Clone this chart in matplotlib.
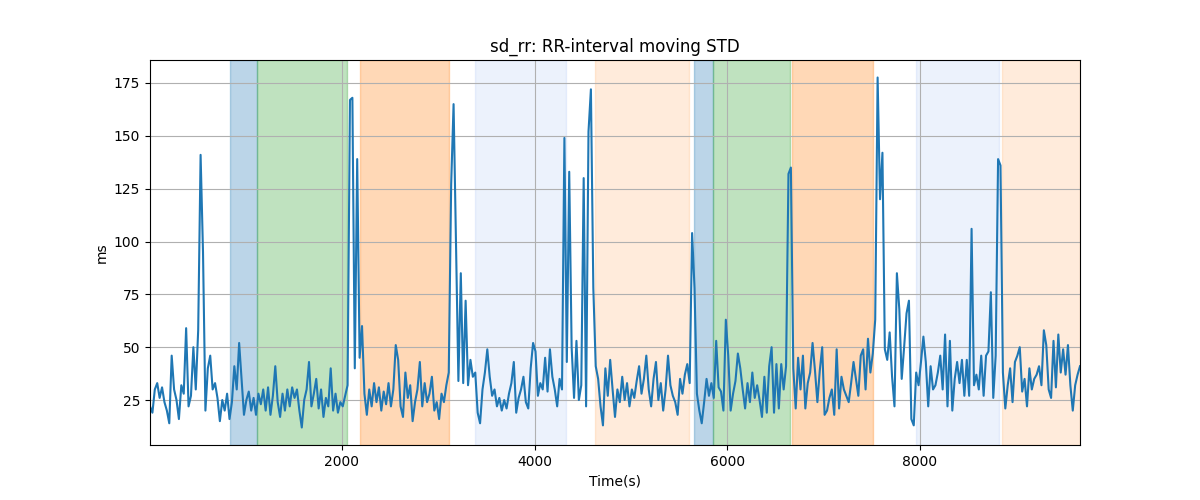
import numpy as np
import matplotlib
matplotlib.use("Agg")
import matplotlib.pyplot as plt

# moving STD of RR interval, one value every 25 s starting at t=10 s
step = 25
t0 = 10
sd_0 = [22, 19, 30, 33, 26, 31, 24, 20, 14, 46, 30, 25, 16, 32, 28, 59, 22, 27, 50, 30,
        58, 141, 95, 20, 40, 46, 30, 33, 26, 15, 25, 20, 28, 16, 24, 41, 30, 52, 35, 18]
sd_1 = [25, 29, 20, 26, 18, 28, 23, 30, 20, 31, 18, 27, 41, 24, 17, 28, 20, 30, 22, 31,
        26, 30, 20, 12, 25, 30, 43, 22, 28, 35, 21, 30, 17, 26, 22, 40, 20, 28, 19, 24]
sd_2 = [22, 27, 32, 167, 168, 40, 139, 45, 60, 28, 18, 30, 22, 33, 24, 31, 20, 29, 23, 33,
        22, 30, 51, 44, 22, 17, 38, 26, 32, 15, 24, 30, 43, 22, 33, 24, 28, 36, 20, 24]
sd_3 = [16, 28, 24, 32, 38, 127, 165, 100, 34, 85, 33, 72, 32, 44, 36, 38, 19, 14, 30, 38,
        49, 36, 27, 30, 22, 26, 20, 25, 21, 28, 33, 43, 19, 26, 30, 36, 24, 21, 40, 52]
sd_4 = [48, 27, 33, 30, 45, 29, 49, 36, 30, 22, 35, 30, 149, 43, 133, 50, 26, 53, 25, 32,
        130, 22, 152, 172, 78, 41, 35, 22, 13, 40, 27, 44, 30, 17, 30, 24, 36, 25, 33, 22]
sd_5 = [30, 26, 34, 41, 28, 35, 46, 30, 22, 35, 43, 25, 33, 20, 30, 46, 32, 27, 24, 18,
        35, 28, 37, 42, 33, 104, 78, 28, 20, 14, 24, 35, 27, 33, 26, 53, 31, 29, 20, 63]
sd_6 = [46, 20, 28, 34, 47, 40, 30, 21, 33, 24, 38, 26, 32, 25, 17, 36, 19, 41, 50, 19,
        42, 21, 42, 30, 41, 132, 135, 40, 21, 45, 30, 46, 21, 33, 38, 52, 39, 24, 39, 50]
sd_7 = [18, 20, 26, 30, 18, 49, 21, 36, 30, 27, 24, 33, 43, 35, 27, 46, 49, 30, 54, 38,
        47, 63, 177.6, 120, 142, 49, 44, 57, 36, 22, 85, 68, 35, 50, 66, 72, 16, 13, 38, 32]
sd_8 = [43, 55, 43, 22, 41, 30, 32, 38, 46, 30, 56, 22, 53, 20, 35, 43, 33, 44, 27, 44,
        27, 106, 32, 37, 30, 46, 27, 46, 48, 76, 26, 46, 139, 136, 38, 21, 32, 40, 24, 43]
sd_9 = [46, 50, 29, 35, 22, 40, 30, 35, 37, 41, 32, 58, 51, 30, 26, 53, 31, 56, 38, 49,
        37, 51, 32, 20, 32, 37, 41]

sd_rr = np.array(sd_0 + sd_1 + sd_2 + sd_3 + sd_4 + sd_5 + sd_6 + sd_7 + sd_8 + sd_9)
time = t0 + step * np.arange(len(sd_rr))

# labelled segments (start, end, colour, alpha)
seg_start = [840, 1120, 2190, 3387, 4623, 5652, 5849, 6670, 7958, 8852]
seg_end = [1120, 2057, 3117, 4322, 5600, 5849, 6649, 7512, 8821, 9660]
seg_color = ['tab:blue', 'tab:green', 'tab:orange', 'cornflowerblue', 'tab:orange',
             'tab:blue', 'tab:green', 'tab:orange', 'cornflowerblue', 'tab:orange']
seg_alpha = [0.3, 0.3, 0.3, 0.12, 0.15, 0.3, 0.3, 0.3, 0.12, 0.15]

fig, ax = plt.subplots(figsize=(12, 5))
for s, e, c, a in zip(seg_start, seg_end, seg_color, seg_alpha):
    ax.axvspan(s, e, color=c, alpha=a)
ax.plot(time, sd_rr, color='tab:blue')
ax.set_xlim(time[0], time[-1])
ax.set_title('sd_rr: RR-interval moving STD')
ax.set_xlabel('Time(s)')
ax.set_ylabel('ms')
ax.grid(True)
fig.savefig('out.png')
